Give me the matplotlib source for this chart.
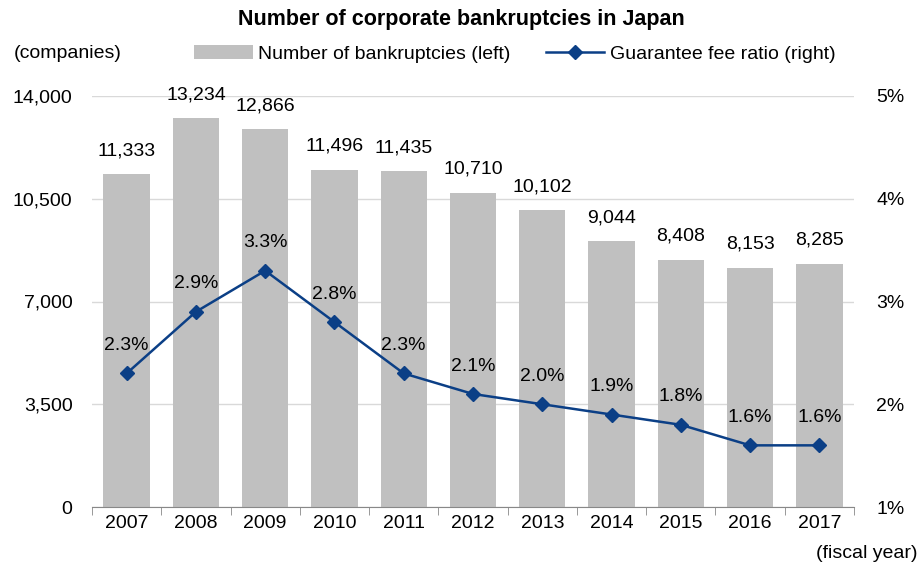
import matplotlib.pyplot as plt
import numpy as np
from matplotlib.ticker import FixedLocator

plt.rcParams['font.family'] = ['Liberation Sans', 'DejaVu Sans']

# データ
years = ['2007', '2008', '2009', '2010', '2011', '2012', '2013', '2014', '2015', '2016', '2017']
bankruptcies = [11333, 13234, 12866, 11496, 11435, 10710, 10102, 9044, 8408, 8153, 8285]
fee_ratio = [2.3, 2.9, 3.3, 2.8, 2.3, 2.1, 2.0, 1.9, 1.8, 1.6, 1.6]
left_ticks = [0, 3500, 7000, 10500, 14000]
right_ticks = [1, 2, 3, 4, 5]

bar_color = '#c0c0c0'
line_color = '#0b3f86'
fs = 14

fig = plt.figure(figsize=(9.23, 5.65), dpi=100)
ax = fig.add_axes([92 / 923, 58 / 565, 762 / 923, 411 / 565])
ax2 = ax.twinx()

x = np.arange(len(years))
bars = ax.bar(x, bankruptcies, width=0.67, color=bar_color, zorder=2,
              label='Number of bankruptcies (left)')
ax.set_xlim(-0.5, len(years) - 0.5)
ax.set_ylim(0, 14000)
ax.set_yticks(left_ticks)
ax.set_yticklabels(['{:,}'.format(t) for t in left_ticks])
ax.grid(axis='y', color='#d9d9d9', linewidth=1, zorder=0)
ax.set_axisbelow(True)

for xi, v in zip(x, bankruptcies):
    ax.annotate('{:,}'.format(v), (xi, v), xytext=(0, 11), textcoords='offset points',
                ha='center', va='bottom', fontsize=fs)

line, = ax2.plot(x, fee_ratio, color=line_color, linewidth=1.8, marker='D',
                 markersize=7, zorder=3, label='Guarantee fee ratio (right)')
ax2.set_ylim(1, 5)
ax2.set_yticks(right_ticks)
ax2.set_yticklabels(['{}%'.format(t) for t in right_ticks])
for xi, v in zip(x, fee_ratio):
    ax2.annotate('{:.1f}%'.format(v), (xi, v), xytext=(0, 14), textcoords='offset points',
                 ha='center', va='bottom', fontsize=fs)

for a in (ax, ax2):
    for s in ['top', 'left', 'right']:
        a.spines[s].set_visible(False)
    a.spines['bottom'].set_color('#888888')
    a.tick_params(axis='y', length=0, labelsize=fs)
ax2.spines['bottom'].set_visible(False)
ax.tick_params(axis='y', pad=14)
ax2.tick_params(axis='y', pad=16)

# x軸: 区切り目盛り
ax.set_xticks(x)
ax.set_xticklabels(years, fontsize=fs)
ax.tick_params(axis='x', length=0, pad=6)
ax.xaxis.set_minor_locator(FixedLocator(np.arange(-0.5, len(years), 1.0)))
ax.tick_params(axis='x', which='minor', length=6, color='#888888', direction='out')

fig.suptitle('Number of corporate bankruptcies in Japan', y=1 - 20 / 565, va='center',
             fontsize=15.5, fontweight='bold')
fig.text(14 / 923, 1 - 54 / 565, '(companies)', fontsize=fs, va='center')
fig.text(918 / 923, 12 / 565, '(fiscal year)', fontsize=fs, va='center', ha='right')

fig.legend(handles=[bars, line], loc='center', bbox_to_anchor=(515 / 923, 1 - 54 / 565),
           ncol=2, frameon=False, fontsize=fs, handlelength=3.0, handletextpad=0.3,
           columnspacing=1.8)

fig.savefig('out.png', dpi=100)
